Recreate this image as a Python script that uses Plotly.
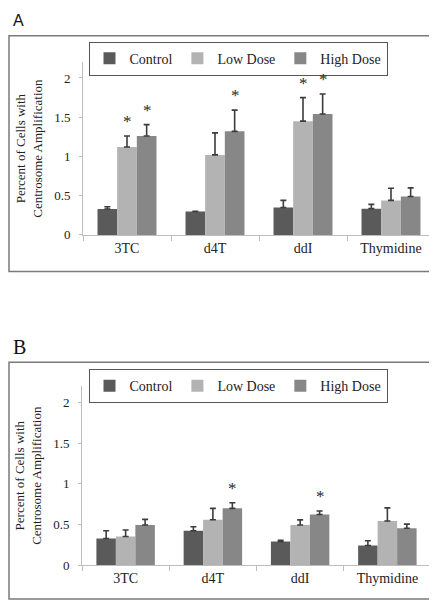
import plotly.graph_objects as go

categories = ["3TC", "d4T", "ddI", "Thymidine"]
series_names = ["Control", "Low Dose", "High Dose"]

# Panel A values and upper error lengths
a_control = [0.33, 0.30, 0.35, 0.335]
a_control_err = [0.03, 0.0, 0.09, 0.055]
a_low = [1.12, 1.02, 1.45, 0.44]
a_low_err = [0.14, 0.28, 0.30, 0.155]
a_high = [1.26, 1.32, 1.54, 0.49]
a_high_err = [0.145, 0.27, 0.255, 0.11]
# significance markers (category, series index)
a_sig = [("3TC", 1), ("3TC", 2), ("d4T", 2), ("ddI", 1), ("ddI", 2)]

# Panel B values and upper error lengths
b_control = [0.33, 0.425, 0.295, 0.245]
b_control_err = [0.095, 0.05, 0.012, 0.058]
b_low = [0.355, 0.56, 0.495, 0.545]
b_low_err = [0.08, 0.14, 0.063, 0.16]
b_high = [0.495, 0.70, 0.625, 0.455]
b_high_err = [0.07, 0.068, 0.042, 0.052]
b_sig = [("d4T", 2), ("ddI", 2)]

y_ticks = [0, 0.5, 1, 1.5, 2]
y_ticktext = ["0", "0.5", "1", "1.5", "2"]

colors = ["#5a5a5a", "#b3b3b3", "#878787"]
SERIF = "Liberation Serif"
W, H = 437, 600

fig = go.Figure()

panels = [
    dict(vals=[a_control, a_low, a_high], errs=[a_control_err, a_low_err, a_high_err],
         sig=a_sig, xa="x", ya="y", legend="legend"),
    dict(vals=[b_control, b_low, b_high], errs=[b_control_err, b_low_err, b_high_err],
         sig=b_sig, xa="x2", ya="y2", legend="legend2"),
]

for p in panels:
    for i, name in enumerate(series_names):
        errs = [e if e > 0 else None for e in p["errs"][i]]
        fig.add_trace(go.Bar(
            x=categories, y=p["vals"][i], name=name,
            marker=dict(color=colors[i], line=dict(width=0)),
            error_y=dict(type="data", array=errs, arrayminus=[0] * 4,
                         symmetric=False, color="#3c3c3c", thickness=1.6, width=3),
            xaxis=p["xa"], yaxis=p["ya"], legend=p["legend"],
        ))

annotations = []
shifts = [-20, 0, 20]
for p in panels:
    for cat, si in p["sig"]:
        idx = categories.index(cat)
        top = p["vals"][si][idx] + p["errs"][si][idx]
        annotations.append(dict(
            x=cat, y=top, xref=p["xa"], yref=p["ya"], text="*", showarrow=False,
            xshift=shifts[si], yshift=3, yanchor="bottom",
            font=dict(family=SERIF, size=17, color="#2a2a2a"),
        ))

annotations.append(dict(x=3 / W, y=1 - 2 / H, xref="paper", yref="paper", text="A",
                        showarrow=False, xanchor="left", yanchor="top",
                        font=dict(family="Liberation Sans", size=16, color="#111")))
annotations.append(dict(x=3 / W, y=1 - 330 / H, xref="paper", yref="paper", text="B",
                        showarrow=False, xanchor="left", yanchor="top",
                        font=dict(family=SERIF, size=20, color="#111")))

def px_x(v):
    return v / W

def px_y(v):
    return 1 - v / H

shapes = [
    dict(type="rect", xref="paper", yref="paper", x0=px_x(1), x1=px_x(436),
         y0=px_y(267), y1=px_y(28), line=dict(color="#7a7a7a", width=1.5)),
    dict(type="rect", xref="paper", yref="paper", x0=px_x(1), x1=px_x(436),
         y0=px_y(599), y1=px_y(359), line=dict(color="#7a7a7a", width=1.5)),
]

xaxis_common = dict(
    type="category", showline=True, linecolor="#bdbdbd", linewidth=1,
    ticks="outside", ticklen=5, tickcolor="#bdbdbd", tickson="boundaries",
    tickfont=dict(family=SERIF, size=14, color="#222"), showgrid=False, zeroline=False,
    fixedrange=True,
)
yaxis_common = dict(
    range=[0, 2.2], tickvals=y_ticks, ticktext=y_ticktext,
    showline=True, linecolor="#bdbdbd", linewidth=1, ticks="outside", ticklen=3,
    tickcolor="#bdbdbd", tickfont=dict(family=SERIF, size=13, color="#222"),
    showgrid=False, zeroline=False, ticklabelstandoff=6,
    title=dict(text="Percent of Cells with<br>Centrosome Amplification",
               font=dict(family=SERIF, size=13, color="#222"), standoff=8),
)

legend_common = dict(
    orientation="h", xanchor="center", yanchor="top",
    bordercolor="#555555", borderwidth=1, bgcolor="white",
    font=dict(family=SERIF, size=14, color="#222"), itemwidth=30,
    tracegroupgap=0,
)

fig.update_layout(
    width=W, height=H, margin=dict(l=0, r=0, t=0, b=0),
    paper_bgcolor="white", plot_bgcolor="white",
    barmode="group", bargap=0.33, bargroupgap=0,
    showlegend=True,
    xaxis=dict(domain=[px_x(75), px_x(427)], anchor="y", **xaxis_common),
    yaxis=dict(domain=[px_y(230), px_y(55)], anchor="x", **yaxis_common),
    xaxis2=dict(domain=[px_x(74), px_x(423)], anchor="y2", **xaxis_common),
    yaxis2=dict(domain=[px_y(565), px_y(383)], anchor="x2", **yaxis_common),
    legend=dict(x=px_x(230), y=px_y(34), **legend_common),
    legend2=dict(x=px_x(230), y=px_y(366), **legend_common),
    annotations=annotations, shapes=shapes,
)

fig.write_html("out.html")
